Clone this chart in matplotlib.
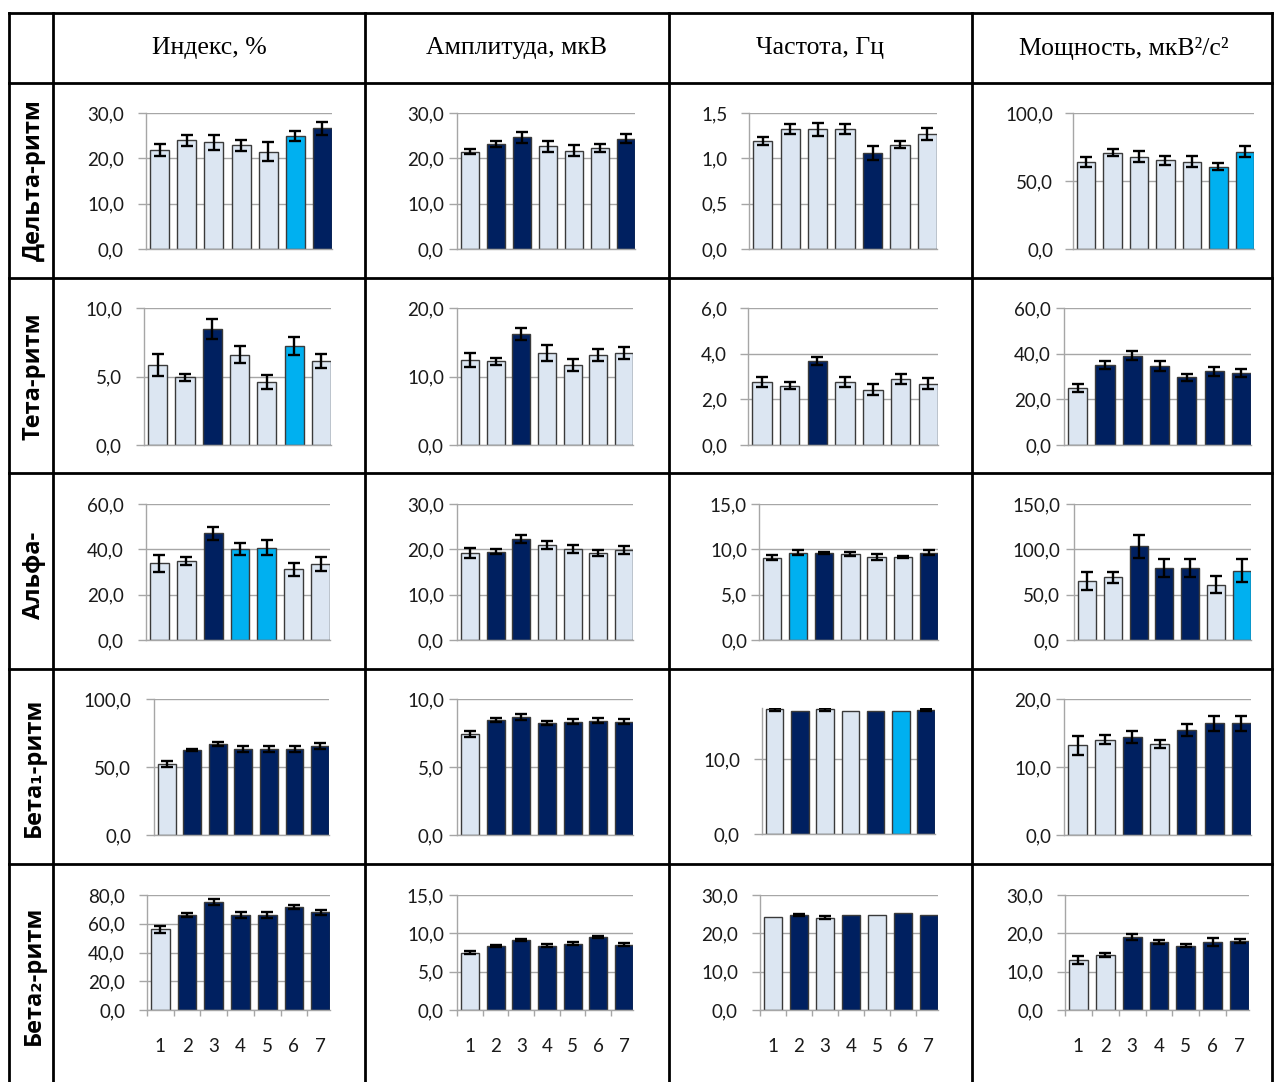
import matplotlib.pyplot as plt
from matplotlib.lines import Line2D

# Column and row headers of the table
columns = ['Индекс, %', 'Амплитуда, мкВ', 'Частота, Гц', 'Мощность, мкВ²/с²']
rhythms = ['Дельта-ритм', 'Тета-ритм', 'Альфа-', 'Бета₁-ритм', 'Бета₂-ритм']
groups = ['1', '2', '3', '4', '5', '6', '7']

# Mean values per rhythm: [index, amplitude, frequency, power]
delta_means = [[21.8, 24.0, 23.5, 22.9, 21.5, 24.9, 26.6],
               [21.4, 23.1, 24.6, 22.7, 21.7, 22.3, 24.3],
               [1.19, 1.32, 1.32, 1.32, 1.06, 1.15, 1.27],
               [64.1, 70.7, 68.0, 65.1, 64.1, 60.5, 71.5]]
theta_means = [[5.83, 4.93, 8.5, 6.6, 4.6, 7.23, 6.14],
               [12.4, 12.2, 16.2, 13.4, 11.7, 13.2, 13.4],
               [2.77, 2.59, 3.68, 2.77, 2.43, 2.88, 2.69],
               [24.9, 35.1, 39.1, 34.6, 29.6, 32.2, 31.5]]
alpha_means = [[33.8, 35.0, 47.1, 40.1, 40.7, 31.2, 33.4],
               [19.2, 19.5, 22.3, 20.9, 20.1, 19.2, 19.9],
               [9.08, 9.63, 9.63, 9.45, 9.19, 9.19, 9.63],
               [64.8, 69.2, 103.2, 79.4, 79.4, 61.1, 76.5]]
beta1_means = [[52.2, 62.5, 66.9, 63.2, 63.2, 63.2, 65.4],
               [7.43, 8.48, 8.68, 8.24, 8.33, 8.41, 8.33],
               [16.7, 16.5, 16.7, 16.5, 16.5, 16.5, 16.6],
               [13.2, 14.0, 14.4, 13.4, 15.4, 16.4, 16.4]]
beta2_means = [[56.1, 66.1, 74.9, 66.1, 66.1, 71.4, 67.9],
               [7.5, 8.37, 9.15, 8.37, 8.67, 9.54, 8.54],
               [24.3, 24.7, 24.1, 24.7, 24.7, 25.3, 24.7],
               [13.0, 14.3, 19.0, 17.7, 16.8, 17.7, 18.0]]

# Standard errors
delta_errs = [[1.3, 1.2, 1.65, 1.25, 2.1, 1.07, 1.5],
              [0.55, 0.66, 1.13, 1.2, 1.24, 0.84, 1.0],
              [0.04, 0.057, 0.075, 0.057, 0.074, 0.039, 0.066],
              [3.7, 2.6, 4.0, 3.0, 4.1, 2.4, 4.0]]
theta_errs = [[0.79, 0.27, 0.73, 0.63, 0.52, 0.68, 0.53],
              [0.98, 0.5, 0.88, 1.15, 0.9, 0.88, 0.85],
              [0.23, 0.15, 0.18, 0.23, 0.23, 0.21, 0.24],
              [1.76, 1.83, 2.05, 2.05, 1.68, 1.83, 1.83]]
alpha_errs = [[3.7, 1.7, 2.8, 2.7, 3.2, 2.8, 3.0],
              [1.17, 0.6, 0.9, 0.85, 0.9, 0.6, 0.85],
              [0.28, 0.26, 0.13, 0.22, 0.33, 0.1, 0.26],
              [10.2, 5.9, 13.0, 9.5, 10.4, 9.1, 12.3]]
beta1_errs = [[2.45, 1.1, 1.8, 2.1, 2.1, 2.1, 2.45],
              [0.22, 0.15, 0.2, 0.16, 0.18, 0.18, 0.18],
              [0.15, 0, 0.15, 0, 0, 0, 0.12],
              [1.37, 0.64, 0.9, 0.6, 0.88, 1.15, 1.08]]
beta2_errs = [[2.2, 1.3, 2.1, 1.9, 2.0, 1.4, 1.9],
              [0.24, 0.13, 0.1, 0.2, 0.2, 0.17, 0.15],
              [0, 0.3, 0.3, 0, 0, 0, 0],
              [1.0, 0.5, 0.75, 0.45, 0.4, 1.0, 0.65]]

# Significance shading: L - no difference, D - p<0.01, C - p<0.05
delta_shade = ['LLLLLCD', 'LDDLLLD', 'LLLLDLL', 'LLLLLCC']
theta_shade = ['LLDLLCL', 'LLDLLLL', 'LLDLLLL', 'LDDDDDD']
alpha_shade = ['LLDCCLL', 'LDDLLLL', 'LCDLLLD', 'LLDDDLC']
beta1_shade = ['LDDDDDD', 'LDDDDDD', 'LDLLDCD', 'LLDLDDD']
beta2_shade = ['LDDDDDD', 'LDDDDDD', 'LDLDLDD', 'LLDDDDD']

# Y-axis range and tick step per cell
y_max = [[30, 30, 1.5, 100], [10, 20, 6, 60], [60, 30, 15, 150],
         [100, 10, 16.9, 20], [80, 15, 30, 30]]
y_step = [[10, 10, 0.5, 50], [5, 10, 2, 20], [20, 10, 5, 50],
          [50, 5, 10, 10], [20, 5, 10, 10]]

means = [delta_means, theta_means, alpha_means, beta1_means, beta2_means]
errs = [delta_errs, theta_errs, alpha_errs, beta1_errs, beta2_errs]
shades = [delta_shade, theta_shade, alpha_shade, beta1_shade, beta2_shade]

palette = {'L': '#DCE6F2', 'D': '#002060', 'C': '#00B0F0'}

W, H = 1274, 1082
fig = plt.figure(figsize=(W / 100, H / 100), dpi=100)

# plot areas in pixels: (left, top, right, bottom)
boxes = [[(146, 113, 332, 249), (457, 113, 635, 249), (749, 113, 937, 249), (1073, 113, 1254, 249)],
         [(144, 308, 331, 445), (457, 308, 633, 445), (748, 308, 938, 445), (1064, 308, 1251, 445)],
         [(146, 504, 330, 640), (457, 504, 633, 640), (759, 504, 938, 640), (1074, 504, 1251, 640)],
         [(154, 699, 329, 835), (457, 699, 633, 835), (762, 708, 935, 834), (1064, 699, 1251, 835)],
         [(147, 895, 330, 1010), (457, 895, 633, 1010), (760, 895, 938, 1010), (1065, 895, 1249, 1010)]]
# gap between tick mark and tick labels, pixels
pads = [[14, 5, 13, 12], [14, 5, 13, 5], [14, 5, 4, 6], [15, 5, 14, 5], [14, 5, 14, 14]]

grid_col = '#A6A6A6'
px = 0.72  # points per pixel at 100 dpi

for r in range(5):
    for c in range(4):
        l, t, rr, b = boxes[r][c]
        ax = fig.add_axes([l / W, 1 - b / H, (rr - l) / W, (b - t) / H])
        vals = means[r][c]
        ee = errs[r][c]
        x = list(range(1, 8))
        ax.bar(x, vals, width=0.7, color=[palette[s] for s in shades[r][c]],
               edgecolor='#3A3A3A', linewidth=1.0, zorder=2)
        ex = [xi for xi, e in zip(x, ee) if e > 0]
        ev = [v for v, e in zip(vals, ee) if e > 0]
        eerr = [e for e in ee if e > 0]
        ax.errorbar(ex, ev, yerr=eerr, fmt='none', ecolor='black',
                    elinewidth=1.7, capsize=4.3, capthick=1.7, zorder=3)

        top = y_max[r][c]
        step = y_step[r][c]
        ticks = []
        v = 0.0
        while v <= top + 1e-9:
            ticks.append(round(v, 3))
            v += step
        ax.set_ylim(0, top)
        ax.set_yticks(ticks)
        ax.set_yticklabels([f'{tk:.1f}'.replace('.', ',') for tk in ticks],
                           fontfamily='Lato', fontsize=13.5, color='#1A1A1A')
        ax.set_xlim(0.5, 7.35)
        ax.yaxis.grid(True, color=grid_col, lw=1)
        ax.set_axisbelow(True)
        for side in ('top', 'right'):
            ax.spines[side].set_visible(False)
        for side in ('left', 'bottom'):
            ax.spines[side].set_color(grid_col)
            ax.spines[side].set_linewidth(1)
        ax.tick_params(axis='y', direction='out', length=8 * px, width=1,
                       color=grid_col, pad=pads[r][c] * px)
        if r == 4:
            ax.set_xticks(x)
            ax.set_xticklabels(groups, fontfamily='Lato', fontsize=13.5, color='#1A1A1A')
            ax.set_xticks([i + 0.5 for i in range(7)], minor=True)
            ax.tick_params(axis='x', which='major', length=0, pad=20)
            ax.tick_params(axis='x', which='minor', direction='out', length=6 * px,
                           width=1, color=grid_col)
        else:
            ax.set_xticks([])

# Table grid
lw = 2.0
for xv in [9, 53, 365, 669, 972, 1272]:
    fig.add_artist(Line2D([xv / W, xv / W], [1 - 13 / H, 0], color='black', lw=lw))
for yv in [13, 83, 278, 473, 669, 864]:
    fig.add_artist(Line2D([9 / W, 1272 / W], [1 - yv / H, 1 - yv / H], color='black', lw=lw))

# Column headers
for name, xc in zip(columns, [209, 517, 820, 1124]):
    fig.text(xc / W, 1 - 48 / H, name, ha='center', va='center',
             fontfamily='Liberation Serif', fontsize=18.5)

# Row headers
for name, yc in zip(rhythms, [180, 376, 575, 767, 975]):
    fig.text(34 / W, 1 - yc / H, name, ha='center', va='center', rotation=90,
             fontfamily=['Open Sans', 'DejaVu Sans'], fontweight='bold', fontsize=17)

fig.savefig('out.png', dpi=100)
